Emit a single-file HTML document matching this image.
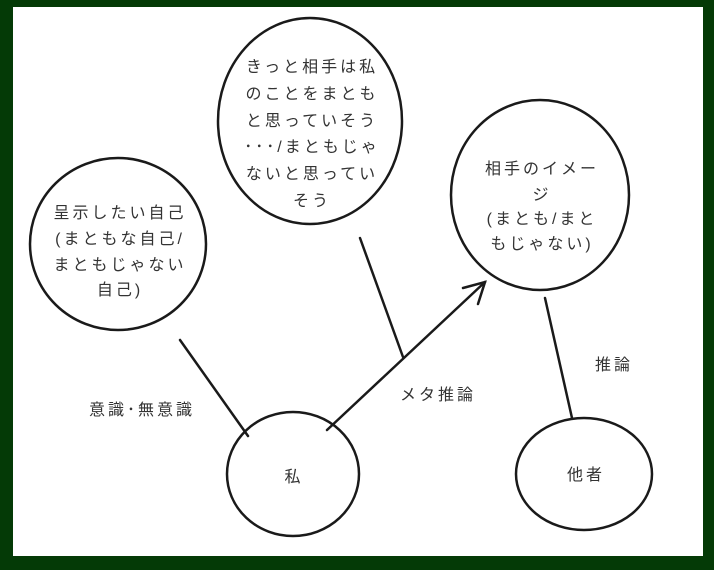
<!DOCTYPE html>
<html><head><meta charset="utf-8"><style>
html,body{margin:0;padding:0;background:#043a06;}
svg{display:block}
text{font-family:"Liberation Sans","Noto Sans CJK JP",sans-serif;font-size:16px;fill:#333;letter-spacing:3px;text-anchor:middle}
</style></head><body>
<svg width="714" height="570" viewBox="0 0 714 570" xmlns="http://www.w3.org/2000/svg">
<rect x="0" y="0" width="714" height="570" fill="#043a06"/>
<rect x="13" y="7" width="690" height="549" fill="#fff"/>
<g fill="none" stroke="#1a1a1a" stroke-width="2.5" stroke-linecap="round">
<ellipse cx="118" cy="244" rx="88" ry="86"/>
<ellipse cx="310" cy="121" rx="92" ry="103"/>
<ellipse cx="540" cy="195" rx="89" ry="95"/>
<ellipse cx="293" cy="474" rx="66" ry="62"/>
<ellipse cx="584" cy="474" rx="68" ry="56"/>
<line x1="180" y1="340" x2="248" y2="436"/>
<line x1="360" y1="238" x2="403" y2="357"/>
<line x1="327" y1="430" x2="485" y2="282"/>
<polyline points="463,288 485,282 478,304"/>
<line x1="545" y1="298" x2="572" y2="418"/>
</g>
<text x="312" y="72">きっと相手は私</text>
<text x="312" y="99">のことをまとも</text>
<text x="312" y="126">と思っていそう</text>
<text x="312" y="152">･･･/まともじゃ</text>
<text x="312" y="179">ないと思ってい</text>
<text x="312" y="206">そう</text>
<text x="120" y="218">呈示したい自己</text>
<text x="120" y="244">(まともな自己/</text>
<text x="120" y="270">まともじゃない</text>
<text x="120" y="295">自己)</text>
<text x="542" y="174">相手のイメー</text>
<text x="542" y="200">ジ</text>
<text x="542" y="224">(まとも/まと</text>
<text x="542" y="249">もじゃない)</text>
<text x="294" y="482">私</text>
<text x="586" y="480">他者</text>
<text x="142" y="415">意識･無意識</text>
<text x="438" y="400">メタ推論</text>
<text x="614" y="370">推論</text>
</svg>
</body></html>
